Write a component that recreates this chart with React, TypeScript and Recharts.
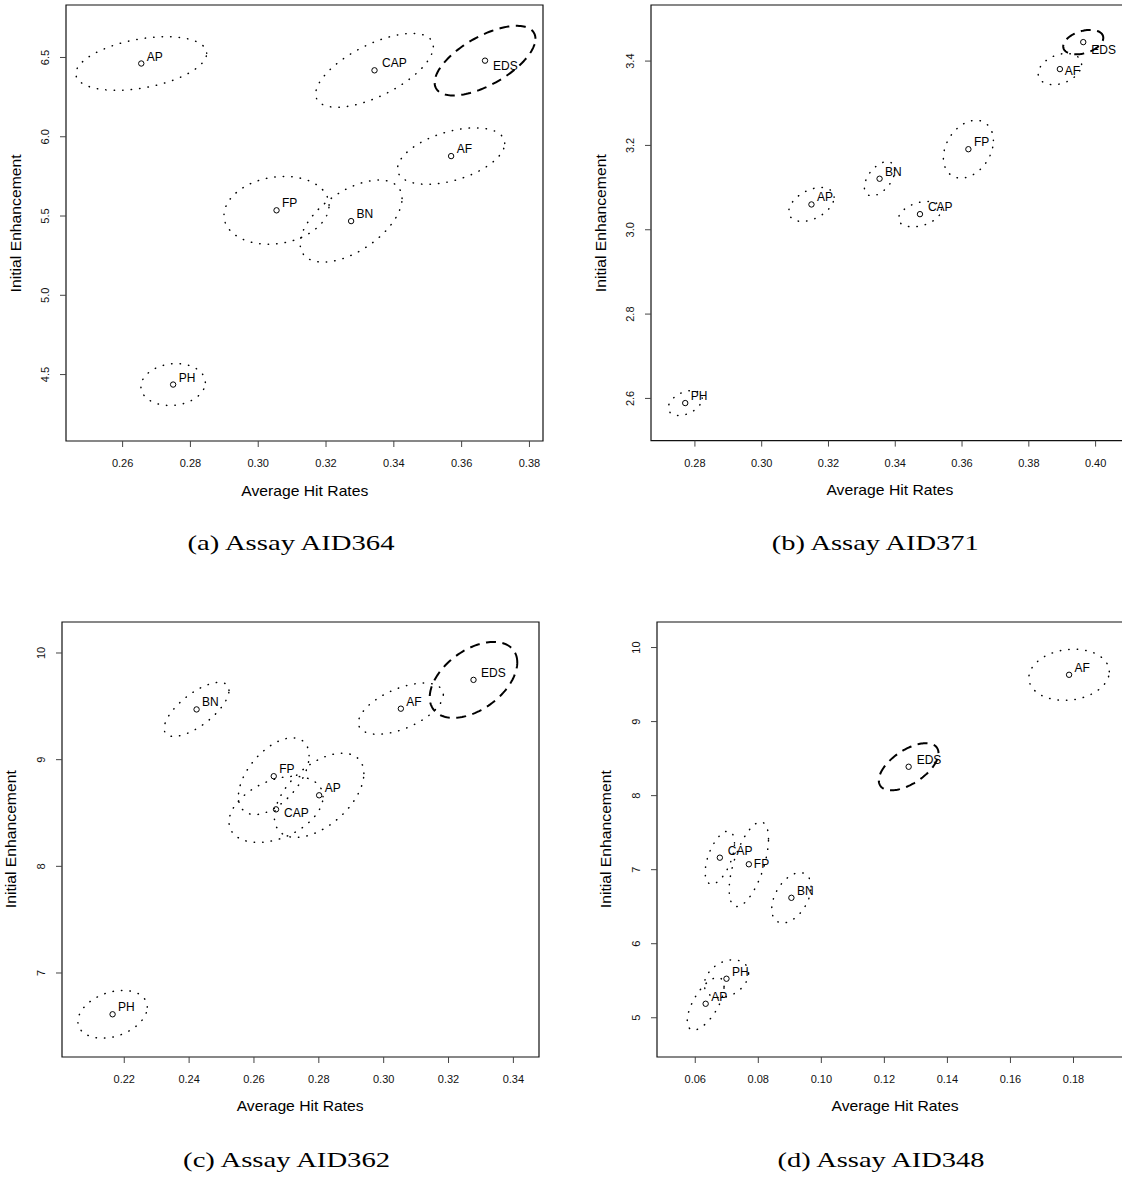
import React from 'react';
import { ScatterChart, Scatter, XAxis, YAxis, ReferenceArea } from 'recharts';

// ---------- data ----------
const methods = ['AP', 'CAP', 'EDS', 'AF', 'FP', 'BN', 'PH'];

// (a) Assay AID364
const aid364HitRate = [0.2655, 0.3343, 0.3669, 0.3569, 0.3054, 0.3274, 0.2749];
const aid364Enhancement = [6.462, 6.419, 6.48, 5.878, 5.536, 5.468, 4.437];
const aid364SpreadX = [0.0193, 0.01735, 0.01487, 0.01582, 0.0155, 0.01503, 0.0095];
const aid364SpreadY = [0.169, 0.233, 0.2196, 0.178, 0.214, 0.259, 0.132];
const aid364Tilt = [0.38, 0.64, 0.63, 0.45, 0.15, 0.55, 0.1];
const aid364XTicks = [0.26, 0.28, 0.3, 0.32, 0.34, 0.36, 0.38];
const aid364XTickLabels = ['0.26', '0.28', '0.30', '0.32', '0.34', '0.36', '0.38'];
const aid364YTicks = [4.5, 5.0, 5.5, 6.0, 6.5];
const aid364YTickLabels = ['4.5', '5.0', '5.5', '6.0', '6.5'];
const aid364XDomain = [0.2433, 0.384];
const aid364YDomain = [4.081, 6.831];

// (b) Assay AID371
const aid371HitRate = [0.3149, 0.3474, 0.3963, 0.3893, 0.3619, 0.3353, 0.2771];
const aid371Enhancement = [3.06, 3.037, 3.445, 3.381, 3.191, 3.121, 2.589];
const aid371SpreadX = [0.00679, 0.00642, 0.006, 0.0065, 0.00749, 0.00455, 0.00508];
const aid371SpreadY = [0.0402, 0.0301, 0.029, 0.037, 0.0686, 0.0406, 0.0296];
const aid371Tilt = [0.42, 0.35, 0.35, 0.3, 0.3, 0.5, 0.38];
const aid371XTicks = [0.28, 0.3, 0.32, 0.34, 0.36, 0.38, 0.4];
const aid371XTickLabels = ['0.28', '0.30', '0.32', '0.34', '0.36', '0.38', '0.40'];
const aid371YTicks = [2.6, 2.8, 3.0, 3.2, 3.4];
const aid371YTickLabels = ['2.6', '2.8', '3.0', '3.2', '3.4'];
const aid371XDomain = [0.26685, 0.4097];
const aid371YDomain = [2.5, 3.533];

// (c) Assay AID362
const aid362HitRate = [0.2801, 0.2668, 0.3277, 0.3053, 0.2661, 0.2423, 0.2164];
const aid362Enhancement = [8.666, 8.534, 9.748, 9.478, 8.845, 9.471, 6.613];
const aid362SpreadX = [0.0138, 0.0145, 0.0135, 0.0131, 0.0109, 0.01, 0.0107];
const aid362SpreadY = [0.395, 0.31, 0.356, 0.24, 0.36, 0.254, 0.224];
const aid362Tilt = [0.52, 0.38, 0.46, 0.55, 0.53, 0.7, 0.3];
const aid362XTicks = [0.22, 0.24, 0.26, 0.28, 0.3, 0.32, 0.34];
const aid362XTickLabels = ['0.22', '0.24', '0.26', '0.28', '0.30', '0.32', '0.34'];
const aid362YTicks = [7, 8, 9, 10];
const aid362YTickLabels = ['7', '8', '9', '10'];
const aid362XDomain = [0.2008, 0.3479];
const aid362YDomain = [6.2125, 10.2906];

// (d) Assay AID348
const aid348HitRate = [0.0633, 0.0678, 0.1277, 0.1786, 0.077, 0.0905, 0.0699];
const aid348Enhancement = [5.189, 7.162, 8.39, 9.632, 7.073, 6.62, 5.527];
const aid348SpreadX = [0.00584, 0.00465, 0.00947, 0.01276, 0.00624, 0.00624, 0.00703];
const aid348SpreadY = [0.355, 0.358, 0.318, 0.3454, 0.5716, 0.3405, 0.256];
const aid348Tilt = [0.65, 0.55, 0.58, 0.12, 0.6, 0.44, 0.3];
const aid348XTicks = [0.06, 0.08, 0.1, 0.12, 0.14, 0.16, 0.18];
const aid348XTickLabels = ['0.06', '0.08', '0.10', '0.12', '0.14', '0.16', '0.18'];
const aid348YTicks = [5, 6, 7, 8, 9, 10];
const aid348YTickLabels = ['5', '6', '7', '8', '9', '10'];
const aid348XDomain = [0.04786, 0.1992];
const aid348YDomain = [4.47, 10.345];

const xTitle = 'Average Hit Rates';
const yTitle = 'Initial Enhancement';

// ---------- layout / style ----------
const SANS = '"Liberation Sans", Arial, Helvetica, sans-serif';
const SERIF = '"Liberation Serif", "Times New Roman", serif';
const Y_W = 60;
const TOP = 8;
const RIGHT = 10;
const X_H = 30;
const BOTTOM = 2;
const BOX_W = 477;

type Nudge = { dx: number; dy: number };
const DEFAULT_NUDGE: Nudge = { dx: 5.5, dy: -7 };

const panels = [
  {
    id: 'a', caption: '(a) Assay AID364',
    hit: aid364HitRate, enh: aid364Enhancement, sx: aid364SpreadX, sy: aid364SpreadY, tilt: aid364Tilt,
    xTicks: aid364XTicks, xTickLabels: aid364XTickLabels, yTicks: aid364YTicks, yTickLabels: aid364YTickLabels,
    xDomain: aid364XDomain, yDomain: aid364YDomain,
    boxLeft: 66.3, boxTop: 5.4, boxH: 436, capX: 291, capY: 543,
    nudges: { EDS: { dx: 8, dy: 5.5 }, CAP: { dx: 7.5, dy: -7 } } as Record<string, Nudge>,
  },
  {
    id: 'b', caption: '(b) Assay AID371',
    hit: aid371HitRate, enh: aid371Enhancement, sx: aid371SpreadX, sy: aid371SpreadY, tilt: aid371Tilt,
    xTicks: aid371XTicks, xTickLabels: aid371XTickLabels, yTicks: aid371YTicks, yTickLabels: aid371YTickLabels,
    xDomain: aid371XDomain, yDomain: aid371YDomain,
    boxLeft: 651.4, boxTop: 5.4, boxH: 435.6, capX: 875.3, capY: 543,
    nudges: { EDS: { dx: 8, dy: 8 }, AF: { dx: 5, dy: 1.5 }, CAP: { dx: 8, dy: -7.3 } } as Record<string, Nudge>,
  },
  {
    id: 'c', caption: '(c) Assay AID362',
    hit: aid362HitRate, enh: aid362Enhancement, sx: aid362SpreadX, sy: aid362SpreadY, tilt: aid362Tilt,
    xTicks: aid362XTicks, xTickLabels: aid362XTickLabels, yTicks: aid362YTicks, yTickLabels: aid362YTickLabels,
    xDomain: aid362XDomain, yDomain: aid362YDomain,
    boxLeft: 61.7, boxTop: 621.7, boxH: 435, capX: 286.6, capY: 1160,
    nudges: { CAP: { dx: 8, dy: 3.5 }, EDS: { dx: 7.5, dy: -6.5 } } as Record<string, Nudge>,
  },
  {
    id: 'd', caption: '(d) Assay AID348',
    hit: aid348HitRate, enh: aid348Enhancement, sx: aid348SpreadX, sy: aid348SpreadY, tilt: aid348Tilt,
    xTicks: aid348XTicks, xTickLabels: aid348XTickLabels, yTicks: aid348YTicks, yTickLabels: aid348YTickLabels,
    xDomain: aid348XDomain, yDomain: aid348YDomain,
    boxLeft: 656.5, boxTop: 621.7, boxH: 435, capX: 881, capY: 1160,
    nudges: { FP: { dx: 5, dy: 0 }, CAP: { dx: 8, dy: -7 }, EDS: { dx: 8, dy: -6.6 } } as Record<string, Nudge>,
  },
];

// outline of a spread ellipse in data space (centre, half-extents, tilt)
function ellipseOutline(cx: number, cy: number, sx: number, sy: number, r: number) {
  const n = 144;
  const q = Math.sqrt(1 - r * r);
  const out: { x: number; y: number }[] = [];
  for (let i = 0; i <= n; i++) {
    const t = (2 * Math.PI * i) / n;
    out.push({ x: cx + sx * Math.cos(t), y: cy + sy * (r * Math.cos(t) + q * Math.sin(t)) });
  }
  return out;
}

const dottedLine = { stroke: '#000', strokeWidth: 1.5, strokeDasharray: '0.4 8.1', strokeLinecap: 'round' as const, fill: 'none' };
const dashedLine = { stroke: '#000', strokeWidth: 2, strokeDasharray: '10 6.5', fill: 'none' };

const Empty = () => <g />;

function Panel({ p }: { p: (typeof panels)[number] }) {
  const W = Y_W + BOX_W + RIGHT;
  const H = TOP + p.boxH + X_H + BOTTOM;
  const points = methods.map((m, i) => ({ label: m, x: p.hit[i], y: p.enh[i] }));

  const xTick = (props: any) => {
    const { x, y, payload } = props;
    const idx = p.xTicks.indexOf(payload.value);
    return (
      <text x={x} y={y + 16.3} textAnchor="middle" dominantBaseline="central" fontSize={11} fontFamily={SANS} fill="#111">
        {idx >= 0 ? p.xTickLabels[idx] : ''}
      </text>
    );
  };
  const yTick = (props: any) => {
    const { x, y, payload } = props;
    const idx = p.yTicks.indexOf(payload.value);
    const cx = x - 14.5;
    return (
      <text x={cx} y={y} transform={`rotate(-90 ${cx} ${y})`} textAnchor="middle" dominantBaseline="central" fontSize={11} fontFamily={SANS} fill="#111">
        {idx >= 0 ? p.yTickLabels[idx] : ''}
      </text>
    );
  };
  const renderPoint = (props: any) => {
    const { cx, cy, payload } = props;
    if (cx == null || cy == null) return <g />;
    const nd = p.nudges[payload.label] || DEFAULT_NUDGE;
    return (
      <g>
        <circle cx={cx} cy={cy} r={2.7} fill="none" stroke="#000" strokeWidth={1} />
        <text x={cx + nd.dx} y={cy + nd.dy} dominantBaseline="central" fontSize={12} fontFamily={SANS} fill="#000">
          {payload.label}
        </text>
      </g>
    );
  };

  return (
    <div style={{ position: 'absolute', left: p.boxLeft - Y_W, top: p.boxTop - TOP }}>
      <ScatterChart width={W} height={H} margin={{ top: TOP, right: RIGHT, bottom: BOTTOM, left: 0 }}>
        <XAxis
          type="number" dataKey="x" domain={p.xDomain} ticks={p.xTicks} allowDataOverflow interval={0}
          tickSize={6} tickMargin={0} axisLine={false} tickLine={{ stroke: '#444', strokeWidth: 1 }}
          height={X_H} tick={xTick}
        />
        <YAxis
          type="number" dataKey="y" domain={p.yDomain} ticks={p.yTicks} allowDataOverflow interval={0}
          tickSize={6} tickMargin={0} axisLine={false} tickLine={{ stroke: '#444', strokeWidth: 1 }}
          width={Y_W} tick={yTick}
        />
        <ReferenceArea
          x1={p.xDomain[0]} x2={p.xDomain[1]} y1={p.yDomain[0]} y2={p.yDomain[1]}
          fill="none" fillOpacity={0} stroke="#111" strokeWidth={1.2} ifOverflow="visible"
        />
        {methods.map((m, i) => (
          <Scatter
            key={`ell-${m}`}
            data={ellipseOutline(p.hit[i], p.enh[i], p.sx[i], p.sy[i], p.tilt[i])}
            line={m === 'EDS' ? dashedLine : dottedLine}
            lineType="joint"
            shape={Empty}
            isAnimationActive={false}
          />
        ))}
        <Scatter data={points} shape={renderPoint} isAnimationActive={false} />
      </ScatterChart>
    </div>
  );
}

function Titles() {
  return (
    <svg width={1122} height={1177} style={{ position: 'absolute', left: 0, top: 0, pointerEvents: 'none' }}>
      {panels.map((p) => {
        const cxBox = p.boxLeft + BOX_W / 2;
        const cyBox = p.boxTop + p.boxH / 2;
        const bottom = p.boxTop + p.boxH;
        const yx = p.boxLeft - 50.7;
        return (
          <g key={p.id}>
            <text x={cxBox} y={bottom + 49.3} textAnchor="middle" dominantBaseline="central" fontSize={14.5}
              fontFamily={SANS} fill="#000" textLength={127} lengthAdjust="spacingAndGlyphs">
              {xTitle}
            </text>
            <text x={yx} y={cyBox} transform={`rotate(-90 ${yx} ${cyBox})`} textAnchor="middle" dominantBaseline="central"
              fontSize={14.5} fontFamily={SANS} fill="#000" textLength={138} lengthAdjust="spacingAndGlyphs">
              {yTitle}
            </text>
            <text x={p.capX} y={p.capY} textAnchor="middle" dominantBaseline="central" fontSize={21}
              fontFamily={SERIF} fill="#000" textLength={207} lengthAdjust="spacingAndGlyphs">
              {p.caption}
            </text>
          </g>
        );
      })}
    </svg>
  );
}

export default function App() {
  return (
    <div style={{ position: 'absolute', left: 0, top: 0, width: 1122, height: 1177, overflow: 'hidden', background: '#fff' }}>
      {panels.map((p) => (
        <Panel key={p.id} p={p} />
      ))}
      <Titles />
    </div>
  );
}
